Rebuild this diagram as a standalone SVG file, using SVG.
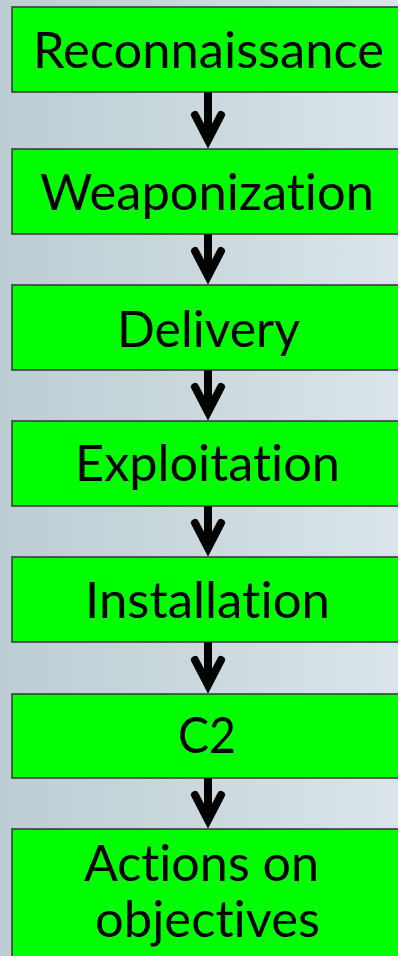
<svg xmlns="http://www.w3.org/2000/svg" width="398" height="956" viewBox="0 0 398 956">
<defs>
<linearGradient id="bg" x1="0" y1="0" x2="1" y2="0">
<stop offset="0" stop-color="#bccdd3"/>
<stop offset="0.5" stop-color="#cbd9de"/>
<stop offset="1" stop-color="#d9e5ea"/>
</linearGradient>
<style>
.box{fill:#00ff00;stroke:#333;stroke-width:1.5}
.lbl{font-family:Lato,"Open Sans",sans-serif;font-size:50px;fill:#000;text-anchor:middle;font-variant-ligatures:none;font-feature-settings:"liga" 0,"clig" 0}
.arr{fill:none;stroke:#000;stroke-width:8;stroke-linejoin:miter;stroke-miterlimit:10}
.head{stroke-linecap:round}
</style>
</defs>
<rect width="398" height="956" fill="url(#bg)"/>
<g id="connectors">
<path class="arr" d="M208 92V140"/><path class="arr head" d="M195 115L208 140L221 115"/>
<path class="arr" d="M208 234V276"/><path class="arr head" d="M195 251L208 276L221 251"/>
<path class="arr" d="M208 370V412"/><path class="arr head" d="M195 387L208 412L221 387"/>
<path class="arr" d="M208 506V548"/><path class="arr head" d="M195 523L208 548L221 523"/>
<path class="arr" d="M208 642V685"/><path class="arr head" d="M195 660L208 685L221 660"/>
<path class="arr" d="M208 778V820"/><path class="arr head" d="M195 795L208 820L221 795"/>
</g>
<g id="reconnaissance"><rect class="box" x="12" y="7" width="392" height="85"/><text class="lbl" x="208.5" y="68" textLength="351" lengthAdjust="spacingAndGlyphs">Reconnaissance</text></g>
<g id="weaponization"><rect class="box" x="12" y="149" width="392" height="85"/><text class="lbl" x="207" y="210" textLength="334" lengthAdjust="spacingAndGlyphs">Weaponization</text></g>
<g id="delivery"><rect class="box" x="12" y="285" width="392" height="85"/><text class="lbl" x="208.5" y="346.5" textLength="183" lengthAdjust="spacingAndGlyphs">Delivery</text></g>
<g id="exploitation"><rect class="box" x="12" y="421" width="392" height="85"/><text class="lbl" x="207.5" y="481" textLength="265" lengthAdjust="spacingAndGlyphs">Exploitation</text></g>
<g id="installation"><rect class="box" x="12" y="557" width="392" height="85"/><text class="lbl" x="207.5" y="618" textLength="245" lengthAdjust="spacingAndGlyphs">Installation</text></g>
<g id="c2"><rect class="box" x="12" y="694" width="392" height="84"/><text class="lbl" x="207" y="753" textLength="58" lengthAdjust="spacingAndGlyphs">C2</text></g>
<g id="actions"><rect class="box" x="12" y="829" width="392" height="140"/><text class="lbl" x="201.5" y="881" textLength="235" lengthAdjust="spacingAndGlyphs">Actions on</text><text class="lbl" x="207.5" y="937" textLength="225" lengthAdjust="spacingAndGlyphs">objectives</text></g>
</svg>
